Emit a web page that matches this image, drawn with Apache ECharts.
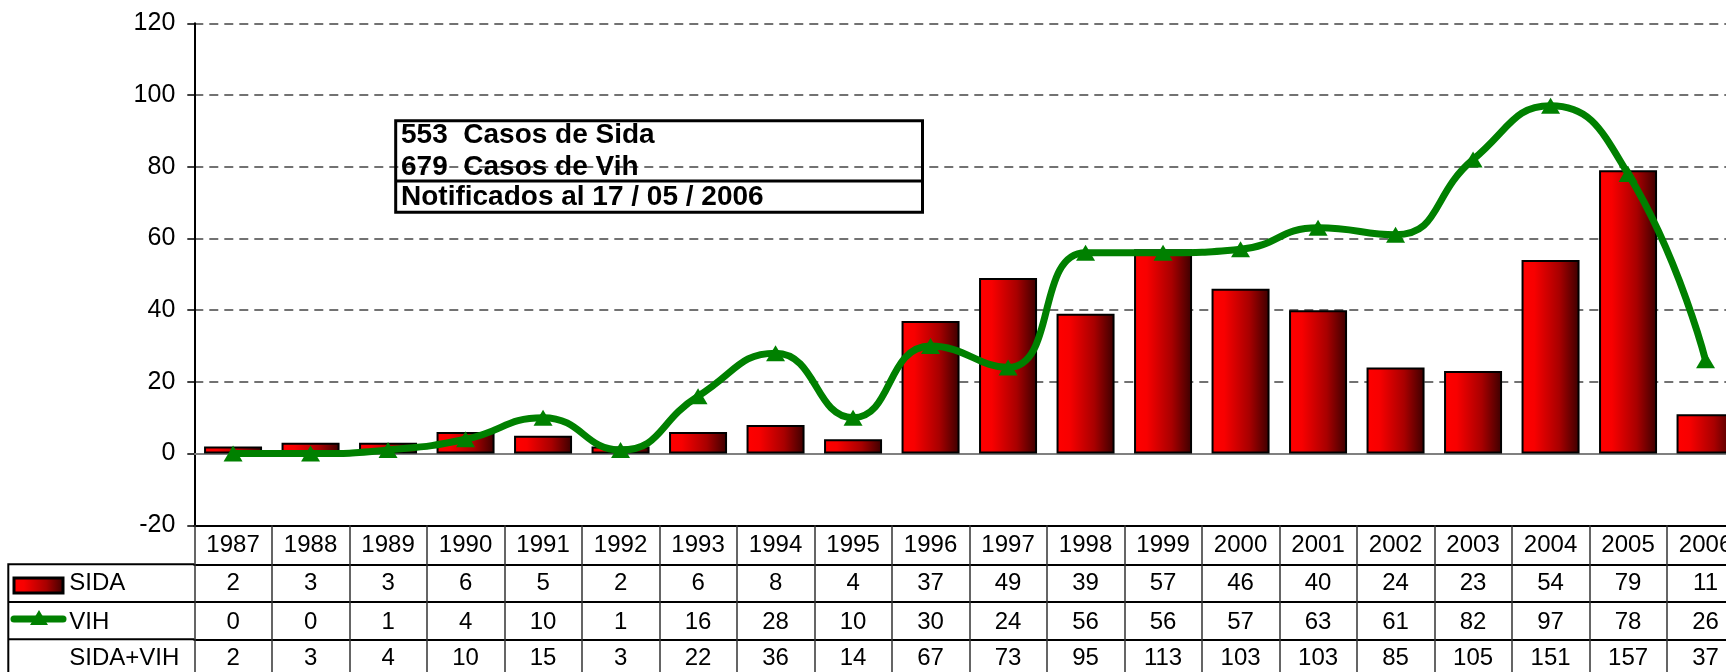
<!DOCTYPE html>
<html>
<head>
<meta charset="utf-8">
<title>SIDA / VIH</title>
<script src="https://cdn.jsdelivr.net/npm/echarts@6.0.0/dist/echarts.min.js"></script>
<style>
  html, body { margin: 0; padding: 0; background: #fff; }
  #chart { width: 1726px; height: 672px; }
</style>
</head>
<body>
<div id="chart"></div>
<script>
const years = ['1987', '1988', '1989', '1990', '1991', '1992', '1993', '1994', '1995', '1996',
               '1997', '1998', '1999', '2000', '2001', '2002', '2003', '2004', '2005', '2006'];
const sida = [2, 3, 3, 6, 5, 2, 6, 8, 4, 37, 49, 39, 57, 46, 40, 24, 23, 54, 79, 11];
const vih = [0, 0, 1, 4, 10, 1, 16, 28, 10, 30, 24, 56, 56, 57, 63, 61, 82, 97, 78, 26];
const sidaVih = [2, 3, 4, 10, 15, 3, 22, 36, 14, 67, 73, 95, 113, 103, 103, 85, 105, 151, 157, 37];
const yMin = -20, yMax = 120, yStep = 20;
const summaryLines = ['553  Casos de Sida', '679  Casos de Vih', 'Notificados al 17 / 05 / 2006'];

const FONT = '"Liberation Sans", Arial, sans-serif';
const barFill = {
    type: 'linear', x: 0, y: 0, x2: 1, y2: 0,
    colorStops: [
        { offset: 0, color: '#ff0000' },
        { offset: 0.22, color: '#f80000' },
        { offset: 0.65, color: '#a80000' },
        { offset: 1, color: '#3a0000' }
    ]
};

// layout of the plot and the data table under it
const gridLeft = 194.3, gridTop = 23.3, gridW = 1550, gridH = 502;
const rowLines = [525.3, 564.3, 602, 639.3, 677];   // horizontal table lines
const labelMargins = [20, 19, 20, 19];

const chart = echarts.init(document.getElementById('chart'), null, { renderer: 'canvas' });

// one x axis per table row, its labels taken from the row's array
const rows = [years, sida, vih, sidaVih];
const tableAxes = rows.map((row, i) => ({
    type: 'category',
    gridIndex: 0,
    position: 'bottom',
    offset: rowLines[i] - rowLines[0],
    data: years,
    axisLine: { show: true, onZero: false, lineStyle: { color: '#000', width: 2 } },
    axisTick: {
        show: true, interval: 0, alignWithLabel: false,
        length: rowLines[i + 1] - rowLines[i],
        lineStyle: { color: '#333', width: 1.5 }
    },
    axisLabel: {
        interval: 0, margin: labelMargins[i], verticalAlign: 'middle',
        fontFamily: FONT, fontSize: 24, color: '#000',
        formatter: (v, idx) => String(row[idx])
    },
    splitLine: { show: false }
}));

const option = {
    animation: false,
    backgroundColor: '#fff',
    grid: {
        left: gridLeft, top: gridTop, width: gridW, height: gridH,
        outerBoundsMode: 'none'
    },
    xAxis: [
        {
            // the 0 line
            type: 'category',
            data: years,
            axisLine: { show: true, onZero: true, lineStyle: { color: '#808080', width: 2 } },
            axisTick: { show: false },
            axisLabel: { show: false },
            splitLine: { show: false }
        }
    ].concat(tableAxes),
    yAxis: {
        type: 'value',
        min: yMin, max: yMax, interval: yStep,
        axisLine: { show: true, lineStyle: { color: '#000', width: 2 } },
        axisTick: { show: true, length: 7, lineStyle: { color: '#000', width: 1.5 } },
        axisLabel: { margin: 19, fontFamily: FONT, fontSize: 25, color: '#000' },
        splitLine: { show: true, lineStyle: { color: '#444', width: 1.5, type: [9, 6] } }
    },
    series: [
        {
            name: 'SIDA',
            type: 'bar',
            data: sida,
            barWidth: 58,
            z: 2,
            itemStyle: { color: barFill, borderColor: '#000', borderWidth: 2 }
        },
        {
            name: 'VIH',
            type: 'line',
            data: vih,
            smooth: 0.5,
            z: 3,
            symbol: 'triangle',
            symbolSize: [19, 16],
            lineStyle: { color: '#008000', width: 7 },
            itemStyle: { color: '#008000' }
        }
    ],
    graphic: [
        // summary box
        {
            type: 'rect', z: 10,
            shape: { x: 395.7, y: 120.7, width: 526.8, height: 91.6 },
            style: { fill: 'none', stroke: '#000', lineWidth: 3 }
        },
        {
            type: 'line', z: 10,
            shape: { x1: 395.7, y1: 181, x2: 922.5, y2: 181 },
            style: { stroke: '#000', lineWidth: 3 }
        }
    ].concat(summaryLines.map((t, i) => ({
        type: 'text', z: 11,
        x: 401, y: [135, 167, 197.5][i],
        style: { text: t, font: 'bold 28px ' + FONT, fill: '#000', verticalAlign: 'middle' }
    }))).concat([
        // legend column of the table
        {
            type: 'polyline', z: 10,
            shape: { points: [[8.3, 677], [8.3, 564.3], [gridLeft, 564.3]] },
            style: { stroke: '#000', lineWidth: 2, fill: null }
        },
        {
            type: 'line', z: 10,
            shape: { x1: 8.3, y1: 602, x2: gridLeft, y2: 602 },
            style: { stroke: '#000', lineWidth: 2 }
        },
        {
            type: 'line', z: 10,
            shape: { x1: 8.3, y1: 639.3, x2: gridLeft, y2: 639.3 },
            style: { stroke: '#000', lineWidth: 2 }
        },
        {
            type: 'rect', z: 10,
            shape: { x: 14, y: 578, width: 49, height: 15 },
            style: { fill: barFill, stroke: '#000', lineWidth: 3 }
        },
        {
            type: 'line', z: 10,
            shape: { x1: 14, y1: 619, x2: 63, y2: 619 },
            style: { stroke: '#008000', lineWidth: 7, lineCap: 'round' }
        },
        {
            type: 'polygon', z: 11,
            shape: { points: [[39, 610], [48, 625], [30, 625]] },
            style: { fill: '#008000' }
        },
        {
            type: 'text', z: 11, x: 69.3, y: 583.5,
            style: { text: 'SIDA', font: '24px ' + FONT, fill: '#000', verticalAlign: 'middle' }
        },
        {
            type: 'text', z: 11, x: 69.3, y: 622,
            style: { text: 'VIH', font: '24px ' + FONT, fill: '#000', verticalAlign: 'middle' }
        },
        {
            type: 'text', z: 11, x: 69.3, y: 658.5,
            style: { text: 'SIDA+VIH', font: '24px ' + FONT, fill: '#000', verticalAlign: 'middle' }
        }
    ])
};

chart.setOption(option);
</script>
</body>
</html>
